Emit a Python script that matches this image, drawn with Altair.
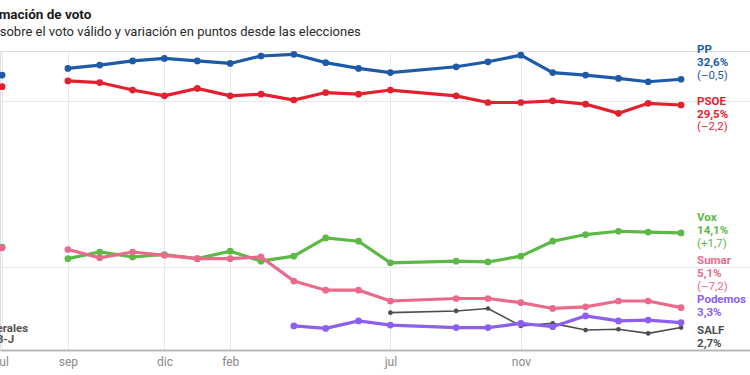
import altair as alt
import pandas as pd

# ---- data ----
months = ["2023-09-01", "2023-10-01", "2023-11-01", "2023-12-01", "2024-01-01",
          "2024-02-01", "2024-03-01", "2024-04-01", "2024-05-01", "2024-06-01",
          "2024-07-01", "2024-09-01", "2024-10-01", "2024-11-01", "2024-12-01",
          "2025-01-01", "2025-02-01", "2025-03-01", "2025-04-01"]
pp = [33.9, 34.3, 34.8, 35.1, 34.8, 34.5, 35.4, 35.6, 34.6, 33.9, 33.4, 34.1,
      34.7, 35.5, 33.4, 33.1, 32.7, 32.3, 32.6]
psoe = [32.4, 32.2, 31.3, 30.6, 31.5, 30.6, 30.8, 30.1, 31.0, 30.8, 31.3, 30.6,
        29.8, 29.8, 30.0, 29.6, 28.5, 29.7, 29.5]
vox = [11.0, 11.8, 11.2, 11.5, 11.0, 11.9, 10.7, 11.3, 13.5, 13.1, 10.5, 10.7,
       10.6, 11.3, 13.1, 13.9, 14.3, 14.2, 14.1]
sumar = [12.1, 11.1, 11.8, 11.4, 11.0, 11.0, 11.2, 8.3, 7.2, 7.2, 5.9, 6.2,
         6.2, 5.7, 5.0, 5.2, 5.9, 5.9, 5.1]
podemos = [None] * 7 + [2.9, 2.6, 3.5, 3.0, 2.7, 2.7, 3.2, 2.8, 4.1, 3.5, 3.6, 3.3]
salf = [None] * 10 + [4.5, 4.7, 5.0, 2.9, 3.2, 2.4, 2.5, 2.0, 2.7]

election_date = "2023-07-01"
election_parties = ["Vox", "Sumar", "PSOE", "PP"]
election_values = [12.4, 12.3, 31.7, 33.1]

parties = ["SALF", "Podemos", "Vox", "Sumar", "PSOE", "PP"]  # drawing order
series = {"PP": pp, "PSOE": psoe, "Vox": vox, "Sumar": sumar,
          "Podemos": podemos, "SALF": salf}
colors = {"PP": "#1d5aa8", "PSOE": "#e5202e", "Vox": "#5cb946",
          "Sumar": "#ea6a8b", "Podemos": "#8c5ff0", "SALF": "#4a4f4f"}

label_names = ["PP", "PSOE", "Vox", "Sumar", "Podemos", "SALF"]
label_values = ["32,6%", "29,5%", "14,1%", "5,1%", "3,3%", "2,7%"]
label_changes = ["(–0,5)", "(–2,2)", "(+1,7)", "(–7,2)", "", ""]
# first-line anchor of each label block (in % units of the y scale)
label_anchor = [36.1, 29.85, 15.85, 10.7, 6.0, 2.3]
line_step = 1.53

month_names = ['ene', 'feb', 'mar', 'abr', 'may', 'jun', 'jul', 'ago', 'sep', 'oct', 'nov', 'dic']
tick_dates = [(2023, 7), (2023, 9), (2023, 12), (2024, 2), (2024, 7), (2024, 11)]

# ---- tables ----
rows = []
for p in parties:
    for d, v in zip(months, series[p]):
        if v is not None:
            rows.append({"party": p, "date": d, "value": v})
df = pd.DataFrame(rows)

edf = pd.DataFrame({"party": election_parties, "date": [election_date] * 4,
                    "value": election_values,
                    "ord": list(range(len(election_parties)))})

bold_rows, reg_rows = [], []
for n, val, ch, a in zip(label_names, label_values, label_changes, label_anchor):
    bold_rows.append({"t": n, "y": a, "col": colors[n], "date": months[-1]})
    bold_rows.append({"t": val, "y": a - line_step, "col": colors[n], "date": months[-1]})
    if ch:
        reg_rows.append({"t": ch, "y": a - 2 * line_step, "col": colors[n], "date": months[-1]})
bold_df = pd.DataFrame(bold_rows)
reg_df = pd.DataFrame(reg_rows)

# ---- scales ----
xscale = alt.Scale(type="utc", domain=[alt.DateTime(year=2023, month=6, date=29, utc=True),
                                       alt.DateTime(year=2025, month=6, date=5, utc=True)])
yscale = alt.Scale(domain=[0, 36], nice=False, zero=True)
label_expr = "[" + ",".join("'%s'" % m for m in month_names) + "][utcmonth(datum.value)]"
xaxis = alt.Axis(values=[alt.DateTime(year=y, month=m, date=1, utc=True) for y, m in tick_dates],
                 labelExpr=label_expr, grid=True, gridColor="#e8e8e8", gridWidth=1,
                 domainColor="#b8b8b8", domainWidth=2, ticks=False, labelPadding=6,
                 labelColor="#8a8a8a", labelFontSize=12, labelFlush=False, title=None,
                 labelFont="Roboto", labelOverlap=False)
yaxis = alt.Axis(values=[10, 30], labels=False, ticks=False, domain=False, title=None,
                 grid=True, gridColor="#e8e8e8", gridWidth=1)

layers = []
for p in parties:
    base = alt.Chart(df).transform_filter(alt.datum.party == p).encode(
        x=alt.X("date:T", scale=xscale, axis=xaxis),
        y=alt.Y("value:Q", scale=yscale, axis=yaxis),
    )
    thin = p == "SALF"
    layers.append(base.mark_line(color=colors[p], strokeWidth=1.6 if thin else 3.2))
    layers.append(base.mark_circle(color=colors[p], size=22 if thin else 45, opacity=1))

elect = alt.Chart(edf).mark_circle(size=45, opacity=1).encode(
    x=alt.X("date:T", scale=xscale, axis=xaxis),
    y=alt.Y("value:Q", scale=yscale, axis=yaxis),
    color=alt.Color("party:N", scale=alt.Scale(domain=election_parties,
                                               range=[colors[p] for p in election_parties]),
                    legend=None),
    order=alt.Order("ord:Q"),
)
layers.insert(4, elect)

gen = alt.Chart(pd.DataFrame({"date": [election_date], "t": ["Generales\n23-J"]})).mark_text(
    lineBreak="\n", align="center", baseline="alphabetic", fontWeight="bold",
    fontSize=11.5, color="#555555", lineHeight=11.5, font="Roboto"
).encode(x="date:T", y=alt.datum(2.2), text="t:N")

bold_lbl = alt.Chart(bold_df).mark_text(
    align="left", baseline="middle", dx=16, fontWeight="bold", fontSize=11.5, font="Roboto"
).encode(x="date:T", y="y:Q", text="t:N", color=alt.Color("col:N", scale=None))

reg_lbl = alt.Chart(reg_df).mark_text(
    align="left", baseline="middle", dx=16, fontSize=11.5, font="Roboto"
).encode(x="date:T", y="y:Q", text="t:N", color=alt.Color("col:N", scale=None))

title = alt.Chart(pd.DataFrame({"t": ["Estimación de voto"]})).mark_text(
    align="left", baseline="alphabetic", fontSize=13.5, fontWeight="bold",
    color="#1a1a1a", font="Roboto"
).encode(x=alt.value(-24), y=alt.value(-32), text="t:N")

subtitle = alt.Chart(pd.DataFrame({"t": ["% sobre el voto válido y variación en puntos desde las elecciones"]})).mark_text(
    align="left", baseline="alphabetic", fontSize=13, color="#2a2a2a", font="Roboto"
).encode(x=alt.value(-13), y=alt.value(-15), text="t:N")

chart = alt.layer(*layers, gen, bold_lbl, reg_lbl, title, subtitle).resolve_scale(
    color="independent"
).properties(
    width=750, height=299, autosize="none",
    padding={"left": 0, "top": 51, "right": 0, "bottom": 25},
).configure_view(stroke=None).configure(font="Roboto")

chart.save("out.html", embed_options={"renderer": "svg", "actions": False})
